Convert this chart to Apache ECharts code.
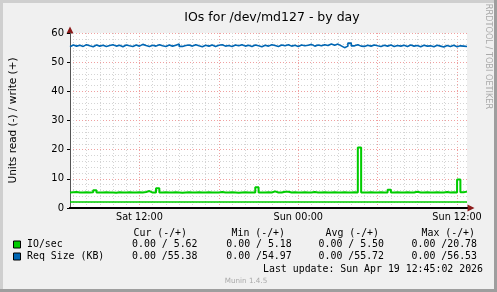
<!DOCTYPE html>
<html><head><meta charset="utf-8">
<script src="https://cdn.jsdelivr.net/npm/echarts@6/dist/echarts.min.js"></script>
<style>html,body{margin:0;padding:0;background:#f0f0f0}#c{width:497px;height:292px}</style>
</head><body><div id="c"></div>
<script>
// ---- data ----
const chartTitle = 'IOs for /dev/md127 - by day';
const yAxisName = 'Units read (-) / write (+)';
const dayNames = ['Sat', 'Sun'];
const startMinutes = 6 * 60 + 45;   // Sat 06:45
const stepMinutes = 15;
const pointCount = 121;
const xTickLabels = ['Sat 12:00', 'Sun 00:00', 'Sun 12:00'];
const xMajorGrid = ['Sat 12:00', 'Sat 18:00', 'Sun 00:00', 'Sun 06:00', 'Sun 12:00'];
const seriesNames = ['IO/sec', 'Req Size (KB)'];

const ioWrite = [
  5.3, 5.4, 5.5, 5.3, 5.3, 5.4, 5.3, 5.4, 6.1, 5.3,
  5.3, 5.4, 5.3, 5.3, 5.2, 5.4, 5.3, 5.3, 5.4, 5.3,
  5.3, 5.4, 5.3, 5.5, 5.8, 5.3, 5.3, 6.8, 5.3, 5.4,
  5.3, 5.3, 5.4, 5.3, 5.2, 5.3, 5.4, 5.3, 5.3, 5.4,
  5.3, 5.3, 5.4, 5.3, 5.3, 5.3, 5.5, 5.3, 5.3, 5.4,
  5.3, 5.2, 5.3, 5.4, 5.3, 5.3, 5.3, 7.1, 5.3, 5.3,
  5.4, 5.3, 5.7, 5.3, 5.3, 5.6, 5.6, 5.3, 5.4, 5.3,
  5.3, 5.4, 5.3, 5.3, 5.5, 5.3, 5.3, 5.4, 5.3, 5.3,
  5.4, 5.3, 5.3, 5.4, 5.3, 5.3, 5.4, 5.3, 20.78, 5.3,
  5.3, 5.4, 5.3, 5.3, 5.4, 5.3, 5.3, 6.3, 5.3, 5.4,
  5.3, 5.3, 5.4, 5.3, 5.3, 5.6, 5.3, 5.3, 5.4, 5.3,
  5.3, 5.4, 5.3, 5.3, 5.5, 5.3, 5.4, 5.3, 9.8, 5.4, 5.62
];
const ioReadLevel = 2.05;

const reqSize = [
  55.3, 55.9, 55.5, 55.8, 55.4, 56.0, 55.6, 55.3, 55.9, 55.5,
  55.8, 55.4, 55.7, 56.0, 55.5, 55.8, 55.3, 55.9, 55.6, 55.4,
  55.9, 55.5, 56.1, 55.7, 55.4, 55.8, 55.5, 56.0, 55.6, 55.4,
  55.9, 55.5, 55.8, 56.2, 55.4, 55.7, 55.9, 55.5, 56.0, 55.6,
  55.3, 55.8, 55.5, 55.9, 55.4, 55.8, 56.0, 55.5, 55.7, 55.4,
  55.9, 55.6, 56.0, 55.5, 55.8, 55.4, 55.9, 55.6, 55.3, 55.8,
  55.5, 56.0, 55.7, 55.4, 55.9, 55.6, 56.0, 55.5, 55.8, 55.4,
  55.9, 55.6, 55.8, 56.1, 55.5, 55.9, 55.6, 56.0, 55.7, 56.2,
  55.8, 56.2, 55.6, 54.97, 55.5, 56.53, 55.6, 56.0, 55.5, 55.4,
  55.8, 55.5, 55.9, 55.6, 55.4, 55.8, 55.5, 55.9, 55.4, 55.7,
  55.5, 55.8, 55.4, 55.9, 55.5, 55.7, 55.3, 55.8, 55.5, 55.6,
  55.3, 55.8, 55.5, 55.2, 55.7, 55.4, 55.8, 55.3, 55.6, 55.5, 55.38
];

const statHeaders = ['Cur (-/+)', 'Min (-/+)', 'Avg (-/+)', 'Max (-/+)'];
const statsIO = ['0.00 / 5.62', '0.00 / 5.18', '0.00 / 5.50', '0.00 /20.78'];
const statsReq = ['0.00 /55.38', '0.00 /54.97', '0.00 /55.72', '0.00 /56.53'];
const lastUpdate = 'Last update: Sun Apr 19 12:45:02 2026';
const versionText = 'Munin 1.4.5';
const sideText = 'RRDTOOL / TOBI OETIKER';

// ---- build ----
const categories = [];
for (let i = 0; i < pointCount; i++) {
  const m = startMinutes + i * stepMinutes;
  const d = dayNames[Math.floor(m / 1440)];
  const mm = m % 1440;
  categories.push(d + ' ' + String(Math.floor(mm / 60)).padStart(2, '0') + ':' + String(mm % 60).padStart(2, '0'));
}

const FONT = 'DejaVu Sans';
const MONO = 'DejaVu Sans Mono';
const GREEN = '#00cc00', BLUE = '#0066b3';
const MINOR = '#d4d4d4', MAJOR = '#f0a0a0', ARROW = '#8b1a1a';

const headerRight = [187, 285, 379, 475];
const valueRight = [197.5, 291.7, 384, 477];
const graphics = [
  {type: 'rect', shape: {x: 0, y: 0, width: 497, height: 3}, style: {fill: '#cfcfcf'}},
  {type: 'rect', shape: {x: 0, y: 0, width: 3, height: 292}, style: {fill: '#cfcfcf'}},
  {type: 'rect', shape: {x: 494, y: 0, width: 3, height: 292}, style: {fill: '#9e9e9e'}},
  {type: 'rect', shape: {x: 0, y: 289, width: 497, height: 3}, style: {fill: '#9e9e9e'}},
  {type: 'text', x: 488, y: 56.5, rotation: -Math.PI / 2,
   style: {text: sideText, fill: '#aaaaaa', font: '8.2px "' + FONT + '"', textAlign: 'center', textVerticalAlign: 'middle'}},
  {type: 'text', x: 483, y: 269.5,
   style: {text: lastUpdate, fill: '#000', font: '9.9px "' + MONO + '"', textAlign: 'right', textVerticalAlign: 'middle'}},
  {type: 'text', x: 246, y: 281.5,
   style: {text: versionText, fill: '#aaaaaa', font: '7.2px "' + FONT + '"', textAlign: 'center', textVerticalAlign: 'middle'}}
];
statHeaders.forEach((t, k) => graphics.push({type: 'text', x: headerRight[k], y: 233,
  style: {text: t, fill: '#000', font: '9.9px "' + MONO + '"', textAlign: 'right', textVerticalAlign: 'middle'}}));
statsIO.forEach((t, k) => graphics.push({type: 'text', x: valueRight[k], y: 244.5,
  style: {text: t, fill: '#000', font: '9.9px "' + MONO + '"', textAlign: 'right', textVerticalAlign: 'middle'}}));
statsReq.forEach((t, k) => graphics.push({type: 'text', x: valueRight[k], y: 256.5,
  style: {text: t, fill: '#000', font: '9.9px "' + MONO + '"', textAlign: 'right', textVerticalAlign: 'middle'}}));

const chart = echarts.init(document.getElementById('c'), null, {renderer: 'canvas'});
chart.setOption({
  animation: false,
  backgroundColor: '#f0f0f0',
  title: {text: chartTitle, left: 267, top: 6, textAlign: 'center',
    textStyle: {fontFamily: FONT, fontSize: 12.5, fontWeight: 'normal', color: '#000'}},
  grid: {left: 67, top: 33, width: 400, height: 175, show: true, backgroundColor: '#ffffff', borderWidth: 0},
  legend: {orient: 'vertical', left: 13, top: 238.5, padding: 0, itemWidth: 7, itemHeight: 7, itemGap: 0, icon: 'rect',
    selectedMode: false, data: seriesNames,
    itemStyle: {borderColor: '#000', borderWidth: 1},
    textStyle: {fontFamily: MONO, fontSize: 9.9, color: '#000', lineHeight: 12, padding: [0, 0, 0, 1.5]}},
  xAxis: [
    {type: 'category', data: categories, boundaryGap: false, position: 'bottom', z: 3,
      axisLine: {show: true, onZero: false, lineStyle: {color: '#000', width: 2}},
      axisTick: {show: false}, axisLabel: {show: false},
      splitLine: {show: true, interval: (i, v) => v.endsWith(':00') && !xMajorGrid.includes(v),
        lineStyle: {color: MINOR, width: 1, type: [1, 2]}}},
    {type: 'category', data: categories, boundaryGap: false, position: 'bottom', z: 2,
      axisLine: {show: true, onZero: false, symbol: ['none', 'triangle'], symbolSize: [7, 7], symbolOffset: [0, 4],
        lineStyle: {color: ARROW, width: 2}},
      axisTick: {show: false},
      axisLabel: {interval: (i, v) => xTickLabels.includes(v), color: '#000', fontFamily: FONT, fontSize: 9.7, margin: 4},
      splitLine: {show: true, interval: (i, v) => xMajorGrid.includes(v),
        lineStyle: {color: MAJOR, width: 1, type: [1, 2]}}}
  ],
  yAxis: [
    {type: 'value', min: 0, max: 60, interval: 10, z: 3,
      name: yAxisName, nameLocation: 'middle', nameGap: 51,
      nameTextStyle: {fontFamily: FONT, fontSize: 10.5, color: '#000'},
      axisLine: {show: true, lineStyle: {color: '#555', width: 1}},
      axisTick: {show: true, length: 3, lineStyle: {color: '#000'}},
      axisLabel: {color: '#000', fontFamily: FONT, fontSize: 10, margin: 6},
      splitLine: {show: true, lineStyle: {color: MAJOR, width: 1, type: [1, 2]}},
      minorTick: {show: false, splitNumber: 5},
      minorSplitLine: {show: true, lineStyle: {color: MINOR, width: 1, type: [1, 2]}}},
    {type: 'value', min: 0, max: 60, interval: 10, position: 'left', z: 2,
      axisLine: {show: true, symbol: ['none', 'triangle'], symbolSize: [7, 7], symbolOffset: [0, 3],
        lineStyle: {color: ARROW, width: 1}},
      axisLabel: {show: false}, axisTick: {show: false}, splitLine: {show: false}}
  ],
  series: [
    {name: seriesNames[0], type: 'line', data: ioWrite, step: 'start', symbol: 'none', z: 4,
      lineStyle: {color: GREEN, width: 2}, itemStyle: {color: GREEN},
      markLine: {silent: true, symbol: 'none', label: {show: false}, animation: false,
        lineStyle: {color: GREEN, width: 1.5, type: 'solid'}, data: [{yAxis: ioReadLevel}]}},
    {name: seriesNames[1], type: 'line', data: reqSize, step: 'start', symbol: 'none', z: 4,
      lineStyle: {color: BLUE, width: 1.6}, itemStyle: {color: BLUE}}
  ],
  graphic: graphics
});
</script></body></html>
